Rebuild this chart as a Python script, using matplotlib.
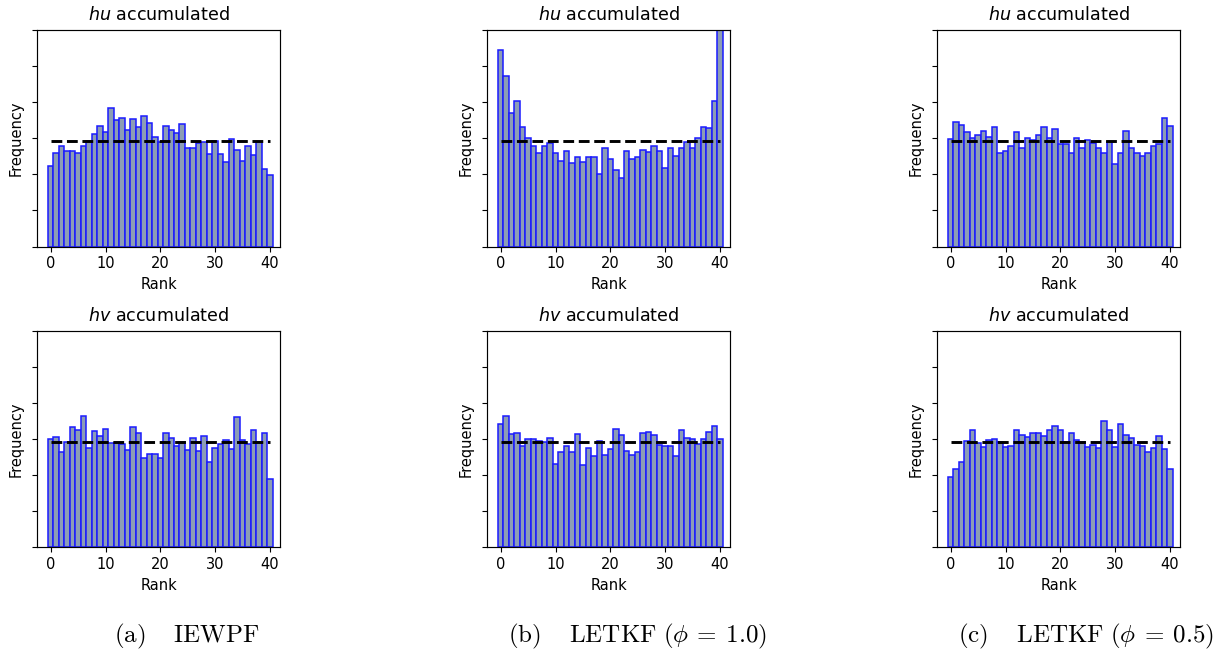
import numpy as np
import matplotlib
matplotlib.use("Agg")
import matplotlib.pyplot as plt

ranks = np.arange(41)

iewpf_hu = [0.0185, 0.0217, 0.0232, 0.0221, 0.0220, 0.0215, 0.0232, 0.0243, 0.0259, 0.0279,
            0.0264, 0.0321, 0.0292, 0.0297, 0.0270, 0.0295, 0.0277, 0.0302, 0.0285, 0.0254,
            0.0242, 0.0279, 0.0270, 0.0261, 0.0284, 0.0228, 0.0227, 0.0240, 0.0242, 0.0213,
            0.0243, 0.0213, 0.0196, 0.0249, 0.0223, 0.0198, 0.0233, 0.0212, 0.0242, 0.0180,
            0.0166]
letkf10_hu = [0.0454, 0.0394, 0.0308, 0.0337, 0.0277, 0.0251, 0.0233, 0.0217, 0.0232, 0.0240,
              0.0217, 0.0198, 0.0220, 0.0193, 0.0207, 0.0194, 0.0206, 0.0206, 0.0168, 0.0228,
              0.0203, 0.0176, 0.0158, 0.0220, 0.0203, 0.0207, 0.0223, 0.0218, 0.0231, 0.0221,
              0.0181, 0.0228, 0.0210, 0.0227, 0.0242, 0.0227, 0.0250, 0.0275, 0.0274, 0.0337,
              0.0499]
letkf05_hu = [0.0249, 0.0287, 0.0281, 0.0264, 0.0250, 0.0257, 0.0267, 0.0254, 0.0277, 0.0215,
              0.0221, 0.0232, 0.0264, 0.0228, 0.0250, 0.0247, 0.0257, 0.0275, 0.0251, 0.0272,
              0.0236, 0.0236, 0.0215, 0.0250, 0.0227, 0.0245, 0.0239, 0.0227, 0.0217, 0.0242,
              0.0190, 0.0215, 0.0267, 0.0227, 0.0215, 0.0208, 0.0215, 0.0233, 0.0237, 0.0297,
              0.0279]
iewpf_hv = [0.0251, 0.0255, 0.0220, 0.0243, 0.0278, 0.0271, 0.0302, 0.0230, 0.0268, 0.0257,
            0.0273, 0.0240, 0.0240, 0.0238, 0.0224, 0.0278, 0.0263, 0.0207, 0.0215, 0.0215,
            0.0207, 0.0264, 0.0253, 0.0234, 0.0242, 0.0224, 0.0253, 0.0223, 0.0256, 0.0196,
            0.0230, 0.0238, 0.0248, 0.0226, 0.0301, 0.0248, 0.0238, 0.0271, 0.0243, 0.0264,
            0.0157]
letkf10_hv = [0.0285, 0.0304, 0.0261, 0.0263, 0.0234, 0.0251, 0.0250, 0.0245, 0.0243, 0.0253,
              0.0193, 0.0220, 0.0234, 0.0220, 0.0261, 0.0190, 0.0230, 0.0210, 0.0245, 0.0214,
              0.0226, 0.0274, 0.0260, 0.0223, 0.0213, 0.0220, 0.0264, 0.0266, 0.0258, 0.0237,
              0.0234, 0.0234, 0.0210, 0.0271, 0.0253, 0.0250, 0.0238, 0.0250, 0.0267, 0.0281,
              0.0250]
letkf05_hv = [0.0163, 0.0180, 0.0196, 0.0246, 0.0270, 0.0240, 0.0231, 0.0248, 0.0251, 0.0243,
              0.0231, 0.0234, 0.0270, 0.0258, 0.0254, 0.0263, 0.0263, 0.0257, 0.0270, 0.0280,
              0.0271, 0.0243, 0.0263, 0.0248, 0.0243, 0.0231, 0.0237, 0.0228, 0.0291, 0.0270,
              0.0231, 0.0285, 0.0260, 0.0253, 0.0237, 0.0233, 0.0221, 0.0228, 0.0257, 0.0226,
              0.0180]

uniform = 1.0 / 41
titles = [r"$hu$ accumulated", r"$hv$ accumulated"]
captions = [r"$\mathrm{(a)\quad\;IEWPF}$",
            r"$\mathrm{(b)\quad\;LETKF\ (}\phi \:=\: 1.0\mathrm{)}$",
            r"$\mathrm{(c)\quad\;LETKF\ (}\phi \:=\: 0.5\mathrm{)}$"]
data = [[iewpf_hu, letkf10_hu, letkf05_hu],
        [iewpf_hv, letkf10_hv, letkf05_hv]]

W, H = 1216, 650
fig = plt.figure(figsize=(W / 100, H / 100), dpi=100)

lefts = [37.3, 487.3, 937.3]
tops = [30.0, 330.7]
aw, ah = 243.0, 216.5
cap_x = [187, 637, 1086]

for r in range(2):
    for c in range(3):
        ax = fig.add_axes([lefts[c] / W, 1 - (tops[r] + ah) / H, aw / W, ah / H])
        ax.bar(ranks, data[r][c], width=1.0, color="#8c9db5", edgecolor="#1a1aff", linewidth=1.1)
        ax.plot([ranks[0], ranks[-1]], [uniform, uniform], "k--", linewidth=2.1)
        ax.set_xlim(-2.45, 41.9)
        ax.set_ylim(0, 0.05)
        ax.set_yticks(np.linspace(0, 0.05, 7))
        ax.set_yticklabels([])
        ax.set_xticks([0, 10, 20, 30, 40])
        ax.tick_params(labelsize=10.5, length=3.7)
        ax.set_title(titles[r], fontsize=12.6, pad=7)
        ax.set_xlabel("Rank", fontsize=10.5)
        ax.set_ylabel("Frequency", fontsize=10.5, labelpad=3)
        for s in ax.spines.values():
            s.set_linewidth(0.85)

for c in range(3):
    fig.text(cap_x[c] / W, 1 - 636 / H, captions[c], ha="center", va="center",
             fontsize=18, math_fontfamily="cm")

fig.savefig("out.png", dpi=100)
